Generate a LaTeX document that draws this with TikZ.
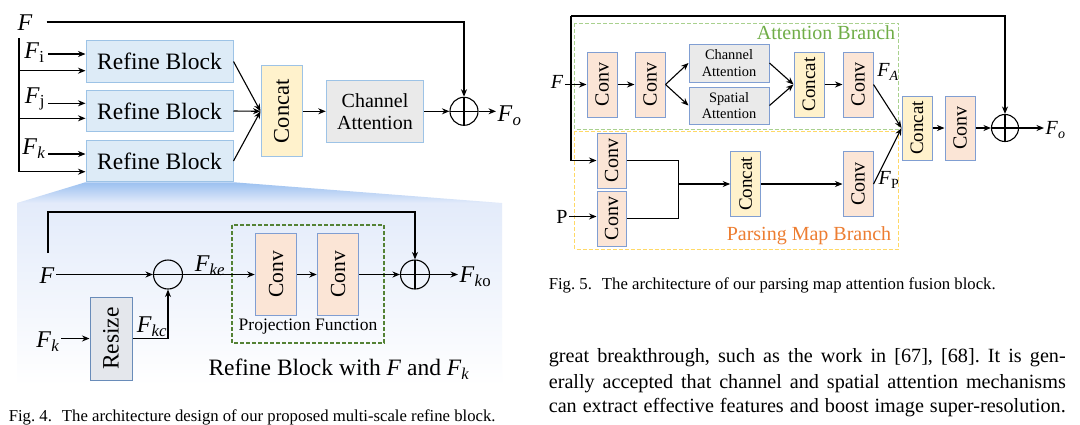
\documentclass[tikz,border=0pt]{standalone}
\usepackage{fontspec}
\setmainfont{Liberation Serif}
\usepackage{graphicx}
\usepackage{tikz}
\usetikzlibrary{calc,arrows.meta,backgrounds,shapes}
\newcommand{\fsz}[1]{\rmfamily\fontsize{#1}{#1}\selectfont}
\newcommand{\fszl}[2]{\rmfamily\fontsize{#1}{#2}\selectfont}
\newcommand{\vtext}[1]{\rotatebox{90}{#1}}
\newcommand{\Fsub}[1]{\textit{F}\textsubscript{#1}}
\frenchspacing

\definecolor{refinefill}{RGB}{221,235,247}
\definecolor{lightedge}{RGB}{157,195,230}
\definecolor{blueedge}{RGB}{128,158,210}
\definecolor{concatfill}{RGB}{255,242,204}
\definecolor{convfill}{RGB}{251,229,214}
\definecolor{attfill}{RGB}{234,234,234}
\definecolor{resizefill}{RGB}{228,231,236}
\definecolor{resizeedge}{RGB}{105,140,185}
\definecolor{projgreen}{RGB}{84,130,53}
\definecolor{attgreen}{RGB}{169,209,142}
\definecolor{attlabel}{RGB}{112,173,71}
\definecolor{parsyellow}{RGB}{255,217,102}
\definecolor{parslabel}{RGB}{237,125,49}
\definecolor{zoomtop}{RGB}{155,192,240}
\definecolor{zoommid}{RGB}{227,235,250}

\tikzset{
  >={Stealth[length=7.5pt,width=6pt]},
  link/.style={line width=1.1pt,->},
  box/.style={draw,line width=1pt,inner sep=0pt,align=center},
  refine/.style={box,fill=refinefill,draw=lightedge,minimum width=147pt,minimum height=41.5pt,font=\fsz{23.5}},
  concatfour/.style={box,fill=concatfill,draw=lightedge,minimum width=41pt,minimum height=91pt,font=\fsz{22.5}},
  chattfour/.style={box,fill=attfill,draw=lightedge,minimum width=97.5pt,minimum height=62pt,font=\fszl{20}{22}},
  convfour/.style={box,fill=convfill,draw=blueedge,minimum width=41.5pt,minimum height=82pt,font=\fsz{21.5}},
  resizebox/.style={box,fill=resizefill,draw=resizeedge,minimum width=42pt,minimum height=83pt,font=\fsz{23.5}},
  convfive/.style={box,fill=convfill,draw=blueedge,minimum width=30pt,minimum height=65pt,font=\fsz{20}},
  concatfive/.style={box,fill=concatfill,draw=blueedge,minimum width=30pt,minimum height=65pt,font=\fsz{19}},
  attfive/.style={box,fill=attfill,draw=blueedge,minimum width=80pt,minimum height=38pt,font=\fszl{14.4}{16.5}},
  sumop/.style={draw,circle,line width=1.1pt,inner sep=0pt,minimum size=#1,
    path picture={\draw[line width=1.1pt] (path picture bounding box.north) -- (path picture bounding box.south)
      (path picture bounding box.west) -- (path picture bounding box.east);}},
  subop/.style={draw,circle,line width=1.1pt,inner sep=0pt,minimum size=29pt,
    path picture={\draw[line width=1.1pt] (path picture bounding box.west) -- (path picture bounding box.east);}},
  lab/.style={inner sep=1.5pt,font=\fsz{24}},
  labfive/.style={inner sep=1.5pt,font=\fsz{20}},
  captext/.style={inner sep=0pt,anchor=west,font=\fsz{16.7}},
  bodytext/.style={inner sep=0pt,anchor=west,font=\fsz{20.2}},
  projbox/.style={draw=projgreen,line width=1.1pt,dash pattern=on 4pt off 2pt},
  attbox/.style={draw=attgreen,line width=1pt,dash pattern=on 4pt off 2pt},
  parsbox/.style={draw=parsyellow,line width=1pt,dash pattern=on 4pt off 2pt}
}

\begin{document}
\begin{tikzpicture}[x=1pt,y=-1pt]
  \useasboundingbox (0,0) rectangle (1080,424);

  %% Fig. 4, multi-scale refine block
  \node (F) at (25,23) [lab] {\textit{F}};
  \node (fi) at (34.5,53) [lab] {\Fsub{i}};
  \node (fj) at (35,99) [lab] {\Fsub{j}};
  \node (fk) at (34,149) [lab] {\Fsub{\textit{k}}};
  \node (rb1) at (159.5,61.5) [refine] {Refine Block};
  \node (rb2) at (159.5,111) [refine] {Refine Block};
  \node (rb3) at (159.5,161) [refine] {Refine Block};
  \node (cc4) at (281.5,111.3) [concatfour] {\vtext{Concat}};
  \node (ca4) at (375,111.3) [chattfour] {Channel\\Attention};
  \node (sum4) at (464,111.3) [sumop=28pt] {};
  \node (fo4) at (508,116) [lab,anchor=west,xshift=-12pt] {\Fsub{\textit{o}}};

  \coordinate (ftop) at (46.5,22);
  \coordinate (vtop) at (19,38);
  \coordinate (vbot) at (19,171.7);
  \coordinate (b1) at (19,70.7);
  \coordinate (b2) at (19,118.3);
  \coordinate (fiin) at (48,54);
  \coordinate (fjin) at (48,103.3);
  \coordinate (fkin) at (48,154);

  \draw[link] (ftop) -| (sum4);
  \draw[link] (vtop) -- (vbot) -- (vbot -| rb3.west);
  \draw[link] (b1) -- (b1 -| rb1.west);
  \draw[link] (b2) -- (b2 -| rb2.west);
  \draw[link] (fiin) -- (fiin -| rb1.west);
  \draw[link] (fjin) -- (fjin -| rb2.west);
  \draw[link] (fkin) -- (fkin -| rb3.west);
  \draw[link] (rb1.east) -- (cc4.west);
  \draw[link] (rb2.east) -- (cc4.west);
  \draw[link] (rb3.east) -- (cc4.west);
  \draw[link] (cc4) -- (ca4);
  \draw[link] (ca4) -- (sum4);
  \draw[link] (sum4) -- (sum4 -| fo4.west);

  %% zoomed refine block
  \node (F2) at (47,276) [lab] {\textit{F}};
  \node (sub4) at (168,274.5) [subop] {};
  \node (rs) at (111,338.5) [resizebox] {\vtext{Resize}};
  \node (fk2) at (48,342) [lab] {\Fsub{\textit{k}}};
  \node (fkc) at (152,327) [lab] {\Fsub{\textit{kc}}};
  \node (fke) at (210,266) [lab] {\Fsub{\textit{ke}}};
  \node (cv1) at (276,274.5) [convfour] {\vtext{Conv}};
  \node (cv2) at (338,274.5) [convfour] {\vtext{Conv}};
  \node (sum4b) at (415,274.5) [sumop=29pt] {};
  \node (fko) at (458,277) [lab,anchor=west] {\textit{F}\textsubscript{\textit{k}o}};
  \draw[projbox] (232,225) rectangle (384,343);
  \node (pf) at (308,327) [font=\fsz{17.5},inner sep=0pt] {Projection Function};
  \node (rbt) at (339,369) [font=\fsz{23.5},inner sep=0pt] {Refine Block with \textit{F} and \Fsub{\textit{k}}};

  \coordinate (sk) at (48,253);
  \draw[link] (sk) -- (sk |- 0,212) -| (sum4b);
  \draw[link] (F2.east |- sub4) -- (sub4);
  \draw[link] (fk2.east |- rs) -- (rs.west);
  \draw[link] (rs.east) -| (sub4);
  \draw[link] (sub4) -- (cv1);
  \draw[link] (cv1) -- (cv2);
  \draw[link] (cv2) -- (sum4b);
  \draw[link] (sum4b) -- (sum4b -| fko.west);

  \begin{scope}[on background layer]
    \fill[white] (0,0) rectangle (1080,424);
    \shade[top color=zoomtop,bottom color=zoommid] (rb3.south west) -- (rb3.south east) -- (502,203) -- (17,203) -- cycle;
    \shade[top color=zoommid,bottom color=white] (17,203) rectangle (502,386);
  \end{scope}

  \node (cap4) at (8.6,417) [captext] {Fig. 4.\hspace{0.6em}The architecture design of our proposed multi-scale refine block.};

  %% Fig. 5, parsing map attention fusion block
  \draw[attbox] (574.5,23) rectangle (898.6,129);
  \draw[parsbox] (574.5,131) rectangle (898.6,249);
  \node (attlab) at (826,33) [font=\fsz{20},text=attlabel,inner sep=0pt] {Attention Branch};
  \node (parslab) at (809,236) [font=\fsz{20},text=parslabel,inner sep=0pt] {Parsing Map Branch};

  \node (F5) at (557,82) [labfive] {\textit{F}};
  \node (P5) at (562,216.5) [labfive] {P};
  \node (a1) at (602,84.5) [convfive] {\vtext{Conv}};
  \node (a2) at (650,84.5) [convfive] {\vtext{Conv}};
  \node (ca5) at (729,63) [attfive] {Channel\\Attention};
  \node (sa5) at (729,105.5) [attfive,minimum height=37pt] {Spatial\\Attention};
  \node (ac5) at (809,84.5) [concatfive] {\vtext{Concat}};
  \node (a3) at (858,84.5) [convfive] {\vtext{Conv}};
  \node (fa5) at (888,72) [labfive] {\Fsub{\textit{A}}};
  \node (p1) at (611.5,160.5) [convfive,minimum width=29pt,minimum height=55pt] {\vtext{Conv}};
  \node (p2) at (611.5,218.5) [convfive,minimum width=29pt,minimum height=55pt] {\vtext{Conv}};
  \node (pc5) at (745.7,184) [concatfive,minimum height=65.5pt] {\vtext{Concat}};
  \node (p3) at (858,184) [convfive,minimum height=65.5pt] {\vtext{Conv}};
  \node (fp5) at (889,180) [labfive] {\Fsub{P}};
  \node (bc5) at (917,128) [concatfive,minimum height=64pt] {\vtext{Concat}};
  \node (fc5) at (960,128) [convfive,minimum height=64pt] {\vtext{Conv}};
  \node (sum5) at (1005,128) [sumop=27pt] {};
  \node (fo5) at (1044,130) [labfive,anchor=west] {\Fsub{\textit{o}}};

  \coordinate (f5c) at (571,16);
  \coordinate (pm) at (678.6,184);
  \draw[link] (f5c) -| (sum5);
  \draw[link] (f5c) |- (p1.west);
  \draw[link] (F5.east |- a1) -- (a1);
  \draw[link] (a1) -- (a2);
  \draw[link] (a2.east) -- (ca5.west);
  \draw[link] (a2.east) -- (sa5.west);
  \draw[link] (ca5.east) -- (ac5.west);
  \draw[link] (sa5.east) -- (ac5.west);
  \draw[link] (ac5) -- (a3);
  \draw[link] (a3.east) -- (bc5.west);
  \draw[link] (P5.east) -- (P5.east -| p2.west);
  \draw[line width=1.1pt] (p1.east) -| (pm) |- (p2.east);
  \draw[link] (pm) -- (pm -| pc5.west);
  \draw[link] (pc5) -- (p3);
  \draw[link] (p3.east) -- (bc5.west);
  \draw[link] (bc5) -- (fc5);
  \draw[link] (fc5) -- (sum5);
  \draw[link] (sum5) -- (fo5.west |- sum5);

  \node (cap5) at (548.6,285) [captext] {Fig. 5.\hspace{0.6em}The architecture of our parsing map attention fusion block.};

  %% body text
  \node (line1) at (548.6,358) [bodytext] {\hbox to 517pt{great breakthrough, such as the work in [67], [68]. It is gen-}};
  \node (line2) at (548.6,384) [bodytext] {\hbox to 517pt{erally accepted that channel and spatial attention mechanisms}};
  \node (line3) at (548.6,408) [bodytext] {\hbox to 517pt{can extract effective features and boost image super-resolution.}};
\end{tikzpicture}
\end{document}
